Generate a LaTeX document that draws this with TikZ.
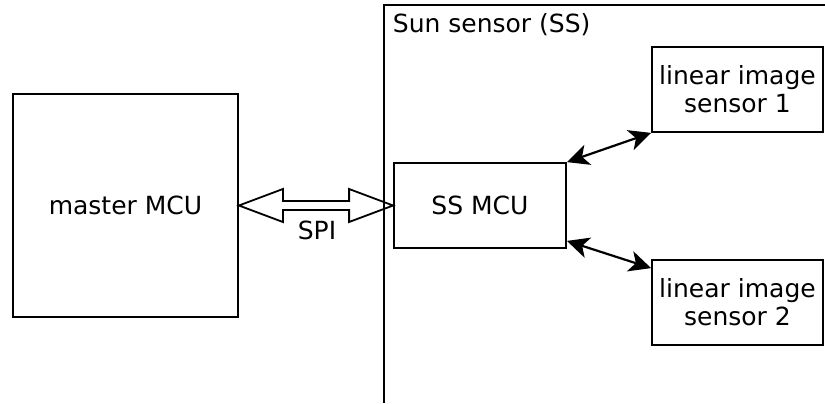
\documentclass[tikz,border=0pt]{standalone}
\usepackage{fontspec}
\setmainfont{DejaVu Sans}
\usetikzlibrary{arrows.meta,calc}

\begin{document}
\begin{tikzpicture}[x=0.5pt,y=-0.5pt,line width=0.9pt,
    font=\fontsize{12.5}{14}\selectfont,
    block/.style={draw,inner sep=1pt,align=center},
    link/.style={line width=1.1pt,{Stealth[length=11pt,width=10.5pt,inset=3pt]}-{Stealth[length=11pt,width=10.5pt,inset=3pt]}}]
  \useasboundingbox (0,0) rectangle (825,403);
  % sun sensor enclosure, cut by the page edge
  \coordinate (ssTop) at (825,5);
  \coordinate (ssCorner) at (384,5);
  \coordinate (ssBottom) at (384,403);
  \draw (ssTop) -- (ssCorner) -- (ssBottom);
  \node[anchor=north west,inner sep=4pt] (sslabel) at (ssCorner) {Sun sensor (SS)};
  % blocks
  \node[block,minimum width=112.5pt,minimum height=111.5pt] (master) at (125.5,205.5) {master MCU};
  \node[block,minimum width=86pt,minimum height=42.5pt] (ssmcu) at (480,205.5) {SS MCU};
  \node[block,minimum width=85.5pt,minimum height=42.5pt] (lis1) at (737.5,89.5) {linear image\\sensor 1};
  \node[block,minimum width=85.5pt,minimum height=42.5pt] (lis2) at (737.5,302.5) {linear image\\sensor 2};
  % SPI bus
  \draw[line join=miter] (master.east) -- ++(44,-16.5) -- ++(0,12)
    -- ($(ssmcu.west)+(-44,-4.5)$) -- ++(0,-12) -- (ssmcu.west)
    -- ++(-44,16.5) -- ++(0,-12) -- ($(master.east)+(44,4.5)$) -- ++(0,12) -- cycle;
  \node (spi) at (317,230) {SPI};
  % sensor links
  \draw[link] (ssmcu.north east) -- (lis1.south west);
  \draw[link] ([yshift=4pt]ssmcu.south east) -- ([yshift=-4.5pt]lis2.north west);
\end{tikzpicture}
\end{document}
